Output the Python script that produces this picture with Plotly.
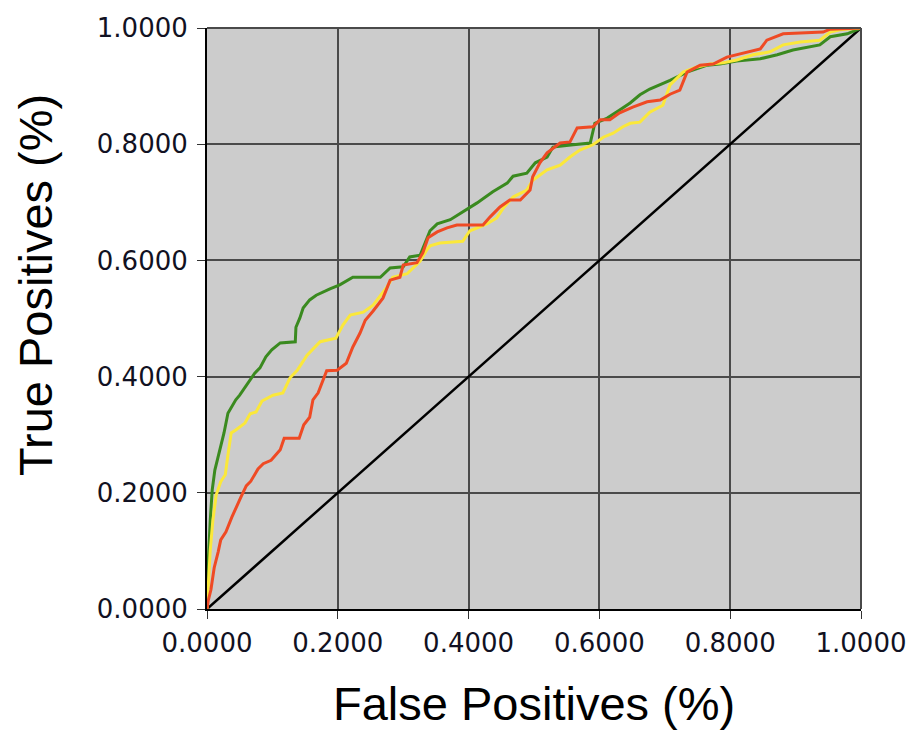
import plotly.graph_objects as go

# ROC curves (False positive rate, True positive rate)
green_fp = [0.0, 0.002, 0.005, 0.008, 0.012, 0.017, 0.021, 0.026, 0.032, 0.044, 0.050, 0.066, 0.073, 0.081,
            0.090, 0.099, 0.112, 0.135, 0.136, 0.142, 0.147, 0.157, 0.167, 0.188, 0.203, 0.223, 0.265, 0.280,
            0.300, 0.310, 0.326, 0.341, 0.352, 0.372, 0.391, 0.413, 0.422, 0.437, 0.459, 0.468, 0.489, 0.502,
            0.520, 0.529, 0.560, 0.586, 0.593, 0.612, 0.631, 0.647, 0.662, 0.677, 0.708, 0.734, 0.765, 0.784,
            0.810, 0.846, 0.872, 0.896, 0.937, 0.953, 0.979, 1.0]
green_tp = [0.0, 0.084, 0.153, 0.205, 0.239, 0.262, 0.282, 0.303, 0.337, 0.360, 0.368, 0.396, 0.406, 0.415,
            0.434, 0.446, 0.458, 0.460, 0.485, 0.501, 0.518, 0.532, 0.540, 0.551, 0.558, 0.571, 0.571, 0.587,
            0.589, 0.606, 0.609, 0.651, 0.663, 0.670, 0.683, 0.699, 0.706, 0.718, 0.733, 0.745, 0.750, 0.768,
            0.778, 0.795, 0.799, 0.802, 0.836, 0.845, 0.859, 0.871, 0.885, 0.895, 0.910, 0.924, 0.936, 0.938,
            0.943, 0.947, 0.954, 0.962, 0.971, 0.985, 0.990, 1.0]

yellow_fp = [0.0, 0.002, 0.005, 0.009, 0.014, 0.021, 0.028, 0.032, 0.037, 0.044, 0.058, 0.066, 0.075, 0.084,
             0.101, 0.116, 0.127, 0.138, 0.153, 0.173, 0.197, 0.208, 0.219, 0.239, 0.254, 0.275, 0.284, 0.306,
             0.326, 0.336, 0.341, 0.356, 0.391, 0.402, 0.428, 0.443, 0.453, 0.468, 0.489, 0.498, 0.520, 0.540,
             0.555, 0.570, 0.590, 0.606, 0.621, 0.636, 0.647, 0.662, 0.677, 0.697, 0.708, 0.728, 0.749, 0.769,
             0.789, 0.810, 0.835, 0.861, 0.881, 0.907, 0.937, 0.953, 0.968, 1.0]
yellow_tp = [0.0, 0.050, 0.102, 0.153, 0.196, 0.219, 0.231, 0.265, 0.303, 0.308, 0.320, 0.336, 0.339, 0.358,
             0.368, 0.372, 0.398, 0.411, 0.437, 0.460, 0.466, 0.489, 0.506, 0.511, 0.523, 0.554, 0.571, 0.577,
             0.599, 0.618, 0.625, 0.630, 0.633, 0.651, 0.663, 0.673, 0.690, 0.709, 0.721, 0.738, 0.756, 0.764,
             0.778, 0.790, 0.799, 0.812, 0.819, 0.830, 0.836, 0.838, 0.855, 0.867, 0.902, 0.924, 0.933, 0.938,
             0.940, 0.945, 0.954, 0.959, 0.971, 0.976, 0.979, 0.993, 0.997, 1.0]

red_fp = [0.0, 0.002, 0.006, 0.011, 0.017, 0.021, 0.029, 0.038, 0.052, 0.060, 0.067, 0.078, 0.086, 0.098,
          0.112, 0.118, 0.141, 0.148, 0.157, 0.162, 0.170, 0.177, 0.183, 0.199, 0.213, 0.223, 0.234, 0.242,
          0.254, 0.269, 0.280, 0.295, 0.300, 0.321, 0.330, 0.338, 0.352, 0.367, 0.382, 0.422, 0.433, 0.448,
          0.463, 0.479, 0.494, 0.498, 0.509, 0.520, 0.540, 0.555, 0.566, 0.590, 0.601, 0.616, 0.631, 0.651,
          0.673, 0.693, 0.708, 0.723, 0.734, 0.754, 0.774, 0.795, 0.815, 0.846, 0.856, 0.881, 0.942, 0.953, 1.0]
red_tp = [0.0, 0.015, 0.033, 0.071, 0.098, 0.119, 0.133, 0.158, 0.193, 0.212, 0.220, 0.241, 0.250, 0.256,
          0.274, 0.294, 0.294, 0.317, 0.330, 0.360, 0.372, 0.391, 0.410, 0.411, 0.423, 0.451, 0.475, 0.497,
          0.513, 0.535, 0.566, 0.571, 0.592, 0.596, 0.613, 0.639, 0.649, 0.656, 0.661, 0.661, 0.675, 0.692,
          0.704, 0.704, 0.721, 0.744, 0.768, 0.785, 0.802, 0.804, 0.828, 0.830, 0.842, 0.842, 0.854, 0.864,
          0.873, 0.876, 0.886, 0.893, 0.924, 0.936, 0.938, 0.950, 0.955, 0.964, 0.979, 0.990, 0.993, 0.998, 1.0]

diag_fp = [0.0, 1.0]
diag_tp = [0.0, 1.0]

tick_vals = [0.0, 0.2, 0.4, 0.6, 0.8, 1.0]
tick_text = ["0.0000", "0.2000", "0.4000", "0.6000", "0.8000", "1.0000"]

x_title = "False Positives (%)"
y_title = "True Positives (%)"

fig = go.Figure()
fig.add_trace(go.Scatter(x=diag_fp, y=diag_tp, mode="lines", line=dict(color="#000000", width=2.5),
                         showlegend=False, hoverinfo="skip"))
fig.add_trace(go.Scatter(x=green_fp, y=green_tp, mode="lines", line=dict(color="#3a8a1f", width=3),
                         showlegend=False))
fig.add_trace(go.Scatter(x=yellow_fp, y=yellow_tp, mode="lines", line=dict(color="#fbe83a", width=3),
                         showlegend=False))
fig.add_trace(go.Scatter(x=red_fp, y=red_tp, mode="lines", line=dict(color="#ef4a24", width=3),
                         showlegend=False))

axis_common = dict(
    range=[0, 1],
    tickvals=tick_vals,
    ticktext=tick_text,
    showgrid=True,
    gridcolor="#4a4a4a",
    gridwidth=2,
    zeroline=False,
    showline=True,
    linecolor="#000000",
    linewidth=2,
    ticks="outside",
    ticklen=8,
    tickwidth=1,
    tickcolor="#333333",
    tickfont=dict(family="DejaVu Sans", size=26, color="#111122"),
    fixedrange=True,
    automargin=False,
)

fig.update_xaxes(**axis_common, ticklabelstandoff=2)
fig.update_yaxes(**axis_common, ticklabelstandoff=4)

# gray frame on top and right
fig.add_shape(type="line", xref="paper", yref="paper", x0=0, x1=1, y0=1, y1=1,
              line=dict(color="#4a4a4a", width=2))
fig.add_shape(type="line", xref="paper", yref="paper", x0=1, x1=1, y0=0, y1=1,
              line=dict(color="#4a4a4a", width=2))

fig.add_annotation(text=x_title, xref="paper", yref="paper", x=0.5, y=-0.1635,
                   xanchor="center", yanchor="middle", showarrow=False,
                   font=dict(family="Liberation Sans", size=47, color="#000000"))
fig.add_annotation(text=y_title, xref="paper", yref="paper", x=-0.2615, y=0.5577,
                   xanchor="center", yanchor="middle", showarrow=False, textangle=-90,
                   font=dict(family="Liberation Sans", size=47, color="#000000"))

fig.update_layout(
    width=913, height=731, autosize=False,
    margin=dict(l=207, r=52, t=28, b=122, autoexpand=False),
    plot_bgcolor="#cccccc",
    paper_bgcolor="#ffffff",
    showlegend=False,
)

fig.write_html("out.html")
